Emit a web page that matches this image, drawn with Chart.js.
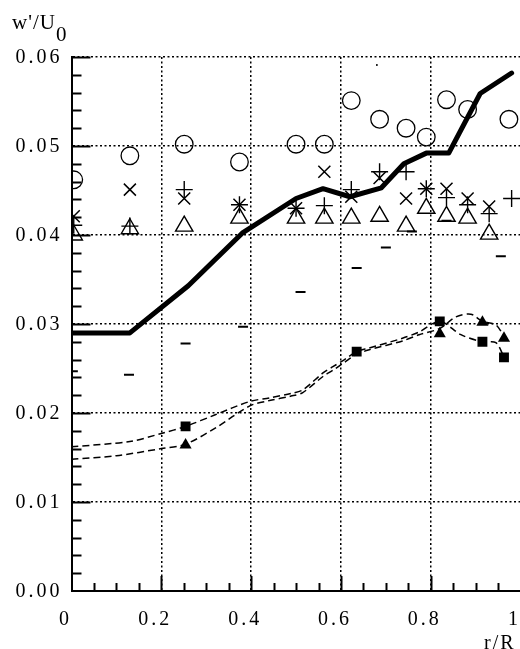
<!DOCTYPE html>
<html><head><meta charset="utf-8">
<script src="https://cdn.jsdelivr.net/npm/chart.js@4"></script>
<style>
html,body{margin:0;padding:0;overflow:hidden;background:#fff;}
#wrap{position:absolute;left:0;top:0;width:532px;height:649px;}
.lbl{position:absolute;font-family:"Liberation Serif","Times New Roman",serif;color:#000;white-space:nowrap;line-height:1;}
</style></head><body>
<div id="wrap"><canvas id="c"></canvas></div>
<div class="lbl" id="ytitle" style="left:12px;top:12px;font-size:21px;letter-spacing:1px;">w'/U<span style="position:relative;top:12px;">0</span></div>
<div class="lbl" id="xtitle" style="left:484px;top:632px;font-size:20px;letter-spacing:2px;">r/R</div>
<script>
// ---- data ----
const xTickLabels = ['0','0.2','0.4','0.6','0.8','1'];
const yTickLabels = ['0.00','0.01','0.02','0.03','0.04','0.05','0.06'];

// thick solid line
const rLine = [0,0.13,0.26,0.38,0.5,0.56,0.62,0.69,0.74,0.79,0.84,0.91,0.98];
const wLine = [0.029,0.029,0.0343,0.0402,0.0441,0.0452,0.0443,0.0453,0.048,0.0492,0.0492,0.0559,0.0582];

// open circles
const rCirc = [0.005,0.13,0.251,0.374,0.50,0.563,0.623,0.686,0.745,0.79,0.835,0.882,0.974];
const wCirc = [0.0462,0.0489,0.0502,0.0482,0.0502,0.0502,0.0551,0.0530,0.0520,0.0510,0.0552,0.0541,0.0530];

// crosses (x)
const rCross = [0.005,0.13,0.251,0.374,0.50,0.563,0.623,0.686,0.745,0.79,0.835,0.882,0.93];
const wCross = [0.0421,0.0451,0.0441,0.0434,0.0430,0.0471,0.0443,0.0464,0.0441,0.0452,0.0452,0.0441,0.0432];

// plus (+)
const rPlus = [0.005,0.13,0.251,0.374,0.50,0.563,0.623,0.686,0.745,0.79,0.835,0.882,0.93,0.98];
const wPlus = [0.0411,0.0410,0.0451,0.0434,0.0430,0.0433,0.0451,0.0471,0.0471,0.0452,0.0442,0.0434,0.0424,0.0441];

// open triangles
const rTri = [0.005,0.13,0.251,0.374,0.50,0.563,0.623,0.686,0.745,0.79,0.835,0.882,0.93];
const wTri = [0.0400,0.0407,0.0410,0.0419,0.0419,0.0419,0.0419,0.0421,0.0410,0.0430,0.0421,0.0419,0.0401];

// short dashes (-)
const rDash = [0.003,0.128,0.254,0.382,0.51,0.635,0.70,0.758,0.835,0.956];
const wDash = [0.0247,0.0243,0.0278,0.0297,0.0336,0.0363,0.0386,0.0404,0.0416,0.0376];

// tiny dot
const rDot = [0.68];
const wDot = [0.0591];

// filled squares
const rSq = [0.254,0.635,0.82,0.915,0.963];
const wSq = [0.0185,0.0269,0.0303,0.0280,0.02625];

// filled triangles
const rFt = [0.254,0.82,0.915,0.963];
const wFt = [0.0164,0.0289,0.0302,0.0284];

// dashed curve through squares
const rSqCurve = [0,0.13,0.2,0.254,0.32,0.397,0.441,0.489,0.515,0.56,0.582,0.608,0.635,0.663,0.737,0.774,0.82,0.867,0.915,0.945,0.963];
const wSqCurve = [0.0162,0.0168,0.0177,0.0185,0.0198,0.0213,0.0217,0.0222,0.0226,0.0245,0.0252,0.0260,0.0269,0.0273,0.0284,0.0291,0.0303,0.0288,0.0280,0.0279,0.0263];

// dashed curve through filled triangles
const rFtCurve = [0,0.1,0.2,0.254,0.32,0.397,0.441,0.489,0.515,0.56,0.582,0.608,0.635,0.663,0.737,0.774,0.82,0.856,0.889,0.915,0.945,0.963];
const wFtCurve = [0.0148,0.0152,0.0160,0.0165,0.0183,0.0208,0.0214,0.0219,0.0223,0.0241,0.0248,0.0257,0.0266,0.0271,0.0281,0.0288,0.0295,0.0308,0.0311,0.0303,0.0299,0.0286];

const pts = (xs, ys) => xs.map((x, i) => ({x: x, y: ys[i]}));

const FONT = {family: '"Liberation Serif","Times New Roman",serif', size: 20};

const spacingPlugin = {
  id: 'letterSpace',
  beforeDraw(chart) { chart.ctx.letterSpacing = '3px'; }
};

const tickPlugin = {
  id: 'inTicks',
  afterDraw(chart) {
    const ctx = chart.ctx, x = chart.scales.x, y = chart.scales.y, a = chart.chartArea;
    ctx.save();
    ctx.strokeStyle = '#000000';
    ctx.lineWidth = 2;
    ctx.setLineDash([]);
    for (let k = 1; k <= 30; k++) {
      const py = Math.round(y.getPixelForValue(k * 0.002)) + 0.5;
      const len = (k % 5 === 0) ? 19 : 10;
      ctx.beginPath(); ctx.moveTo(a.left, py); ctx.lineTo(a.left + len, py); ctx.stroke();
    }
    for (let k = 1; k < 20; k++) {
      const px = Math.round(x.getPixelForValue(k * 0.05)) + 0.5;
      const len = (k % 4 === 0) ? 15 : 8;
      ctx.beginPath(); ctx.moveTo(px, a.bottom); ctx.lineTo(px, a.bottom - len); ctx.stroke();
    }
    ctx.restore();
  }
};

const blk = '#000';
new Chart(document.getElementById('c'), {
  type: 'scatter',
  data: {
    datasets: [
      {data: pts(rLine, wLine), showLine: true, borderColor: blk, borderWidth: 5, pointRadius: 0, borderJoinStyle: 'round', borderCapStyle: 'round'},
      {data: pts(rCirc, wCirc), pointStyle: 'circle', pointRadius: 8.8, pointBorderWidth: 1.3, borderColor: blk, backgroundColor: 'rgba(0,0,0,0)'},
      {data: pts(rCross, wCross), pointStyle: 'crossRot', pointRadius: 8.5, pointBorderWidth: 1.5, borderColor: blk, backgroundColor: blk},
      {data: pts(rPlus, wPlus), pointStyle: 'cross', pointRadius: 8.5, pointBorderWidth: 1.4, borderColor: blk, backgroundColor: blk},
      {data: pts(rTri, wTri), pointStyle: 'triangle', pointRadius: 10, pointBorderWidth: 1.4, borderColor: blk, backgroundColor: 'rgba(0,0,0,0)'},
      {data: pts(rDash, wDash), pointStyle: 'line', pointRadius: 5, pointBorderWidth: 2, borderColor: blk, backgroundColor: blk},
      {data: pts(rDot, wDot), pointStyle: 'circle', pointRadius: 1, pointBorderWidth: 0, borderColor: blk, backgroundColor: blk},
      {data: pts(rSq, wSq), pointStyle: 'rect', pointRadius: 7, pointBorderWidth: 0, borderColor: blk, backgroundColor: blk},
      {data: pts(rFt, wFt), pointStyle: 'triangle', pointRadius: 7, pointBorderWidth: 0, borderColor: blk, backgroundColor: blk},
      {data: pts(rSqCurve, wSqCurve), showLine: true, borderColor: blk, borderWidth: 1.5, borderDash: [7, 4], pointRadius: 0, tension: 0.3},
      {data: pts(rFtCurve, wFtCurve), showLine: true, borderColor: blk, borderWidth: 1.5, borderDash: [7, 4], pointRadius: 0, tension: 0.3}
    ]
  },
  options: {
    responsive: true,
    maintainAspectRatio: false,
    animation: false,
    events: [],
    layout: {padding: {top: 57, left: 0, right: 10.5, bottom: 0}},
    plugins: {legend: {display: false}, tooltip: {enabled: false}, title: {display: false}},
    scales: {
      x: {
        type: 'linear', position: 'bottom', min: 0, max: 1,
        grid: {color: blk, lineWidth: 1.5, drawTicks: true, tickLength: 17, tickColor: 'rgba(0,0,0,0)'},
        border: {display: true, color: blk, width: 2, dash: [2, 2.5]},
        ticks: {stepSize: 0.2, autoSkip: false, maxRotation: 0, color: blk, font: FONT, padding: 0, labelOffset: -6,
                callback: (v, i) => xTickLabels[i]},
        afterFit(s) { s.height = 58; }
      },
      y: {
        type: 'linear', position: 'left', min: 0, max: 0.06,
        grid: {color: blk, lineWidth: 1.5, drawTicks: false},
        border: {display: true, color: blk, width: 2, dash: [2, 2.5]},
        ticks: {stepSize: 0.01, autoSkip: false, color: blk, font: FONT, padding: 9, labelOffset: 1,
                callback: (v, i) => yTickLabels[i]},
        afterFit(s) { s.width = 71.5; }
      }
    }
  },
  plugins: [spacingPlugin, tickPlugin]
});
</script>
</body></html>
